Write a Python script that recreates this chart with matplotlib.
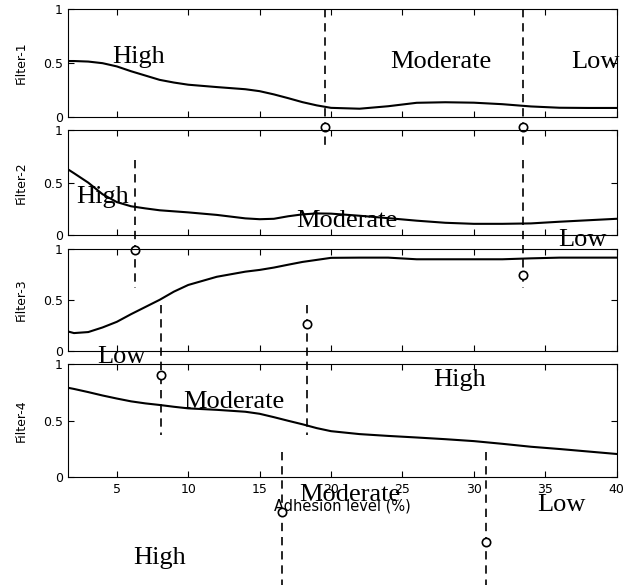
import matplotlib
matplotlib.use('Agg')
import matplotlib.pyplot as plt


# adhesion level grid (%) shared by the four filters
adhesion = [1.6, 2, 3, 4, 5, 6, 7, 8, 9, 10, 12, 14, 15, 16, 17, 18, 19, 20,
            22, 24, 26, 28, 30, 32, 34, 36, 38, 40]

filter_1 = [0.52, 0.52, 0.515, 0.50, 0.47, 0.425, 0.385, 0.345, 0.32, 0.30, 0.278,
            0.258, 0.24, 0.21, 0.175, 0.138, 0.108, 0.085, 0.077, 0.10, 0.132,
            0.137, 0.133, 0.119, 0.098, 0.086, 0.084, 0.084]
filter_2 = [0.625, 0.59, 0.50, 0.39, 0.315, 0.275, 0.255, 0.237, 0.227, 0.217, 0.193,
            0.16, 0.152, 0.156, 0.18, 0.198, 0.207, 0.205, 0.185, 0.162, 0.138,
            0.118, 0.108, 0.108, 0.112, 0.128, 0.142, 0.156]
filter_3 = [0.19, 0.175, 0.185, 0.23, 0.285, 0.36, 0.43, 0.50, 0.58, 0.645, 0.725,
            0.775, 0.792, 0.815, 0.843, 0.87, 0.89, 0.91, 0.912, 0.912, 0.896,
            0.896, 0.896, 0.896, 0.905, 0.912, 0.912, 0.912]
filter_4 = [0.79, 0.78, 0.752, 0.722, 0.695, 0.67, 0.652, 0.638, 0.622, 0.608, 0.595,
            0.578, 0.56, 0.53, 0.498, 0.467, 0.433, 0.406, 0.38, 0.364, 0.35,
            0.335, 0.318, 0.294, 0.268, 0.248, 0.226, 0.204]

filters = [filter_1, filter_2, filter_3, filter_4]
filter_names = ['Filter-1', 'Filter-2', 'Filter-3', 'Filter-4']

# thresholds between levels (x) and the marker level drawn under each one
thresholds = [[19.56, 33.45], [6.24, 33.45], [8.1, 18.3], [16.58, 30.86]]
marker_levels = [[-0.093, -0.093], [-0.143, -0.376], [-0.234, 0.26], [-0.307, -0.573]]

level_names = [['High', 'Moderate', 'Low'],
               ['High', 'Moderate', 'Low'],
               ['Low', 'Moderate', 'High'],
               ['High', 'Moderate', 'Low']]

# where the overlay sits on each panel (x in %, y in panel units)
dash_span = [(1.0, -0.27), (0.714, -0.505), (0.449, -0.82), (0.224, -1.0)]
label_x = [[6.55, 27.7, 38.5], [4.0, 21.1, 37.6], [5.3, 13.2, 29.0], [8.0, 21.3, 36.1]]
label_y = [[0.557, 0.51, 0.51], [0.362, 0.133, -0.048], [-0.056, -0.50, -0.283],
           [-0.717, -0.16, -0.248]]

# panel boxes in figure fraction: left, bottom, width, height
boxes = [[0.1082, 0.800, 0.869, 0.184],
         [0.1082, 0.598, 0.869, 0.1795],
         [0.1082, 0.400, 0.869, 0.175],
         [0.1082, 0.1846, 0.869, 0.193]]

fig = plt.figure(figsize=(6.31, 5.85), dpi=100)

for i in range(4):
    ax = fig.add_axes(boxes[i])
    ax.set_facecolor('none')
    ax.plot(adhesion, filters[i], color='black', lw=1.5)
    ax.set_xlim(1.6, 40)
    ax.set_ylim(0, 1)
    ax.set_yticks([0, 0.5, 1])
    ax.set_yticklabels(['0', '0.5', '1'])
    ax.set_xticks([5, 10, 15, 20, 25, 30, 35, 40])
    ax.tick_params(direction='in', top=True, right=True, length=4, width=0.8,
                   labelsize=9, pad=4)
    if i < 3:
        ax.set_xticklabels([])
    for s in ax.spines.values():
        s.set_linewidth(0.8)
    ax.set_ylabel(filter_names[i], fontsize=9)
    ax.yaxis.set_label_coords(-0.0734, 0.5)

    top, bottom = dash_span[i]
    for t, m in zip(thresholds[i], marker_levels[i]):
        ax.plot([t, t], [top, bottom], color='black', lw=1.2, ls=(0, (5, 3.5)),
                clip_on=False, zorder=3)
        ax.plot(t, m, 'o', ms=6, mfc='white', mec='black', mew=1.2,
                clip_on=False, zorder=4)
    for name, lx, ly in zip(level_names[i], label_x[i], label_y[i]):
        ax.text(lx, ly, name, family='Liberation Serif', fontsize=19,
                ha='center', va='center', clip_on=False, zorder=5)

    if i == 3:
        ax.set_xlabel('Adhesion level (%)', fontsize=10.5, labelpad=2)

fig.savefig('out.png', dpi=100)
